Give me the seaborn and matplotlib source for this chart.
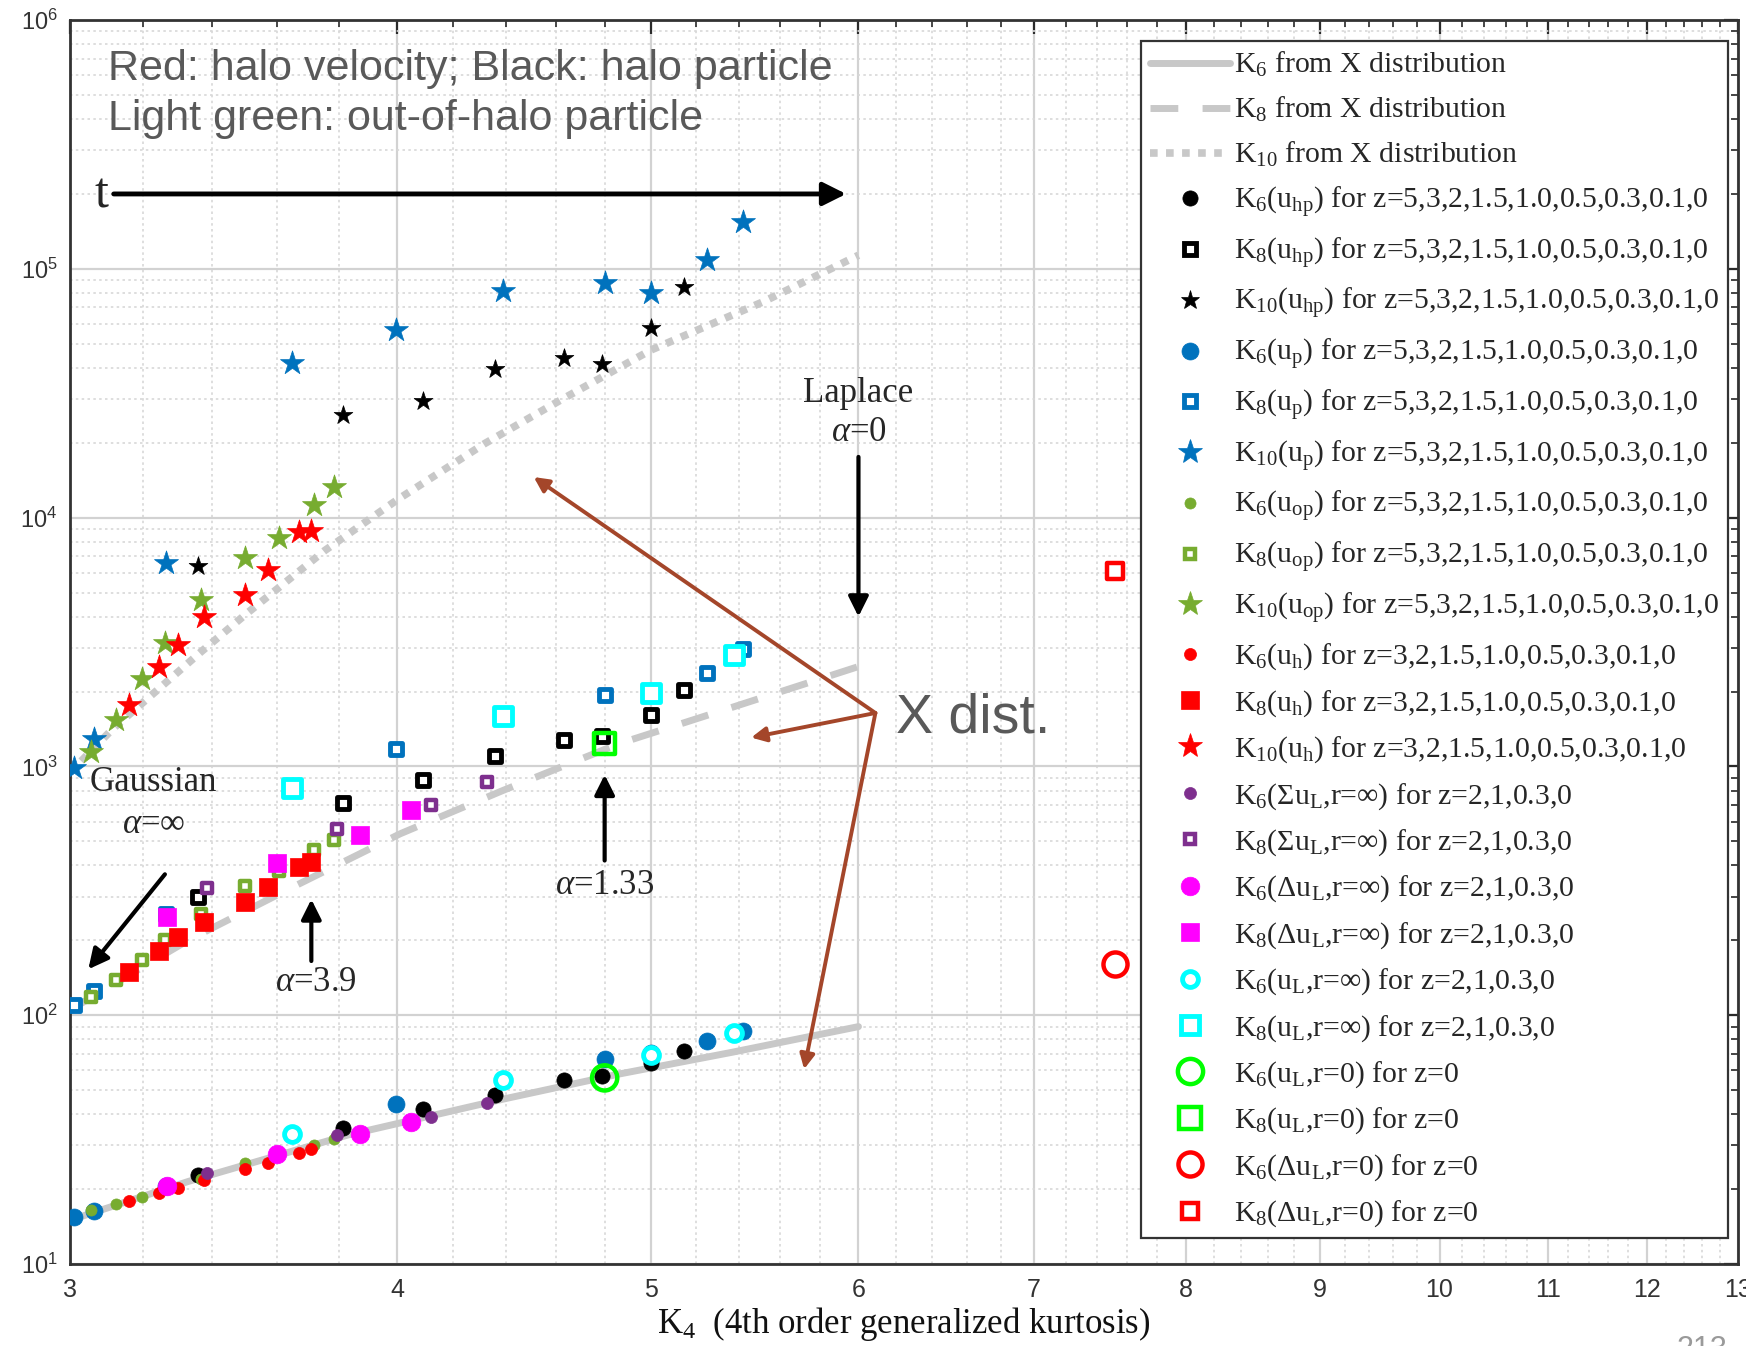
import numpy as np
import pandas as pd
import matplotlib
matplotlib.use("Agg")
import matplotlib.pyplot as plt
import seaborn as sns
from matplotlib.lines import Line2D
from matplotlib.ticker import FixedLocator, FixedFormatter, NullFormatter, LogLocator

sns.set_style("white")
plt.rcParams["font.family"] = ["Liberation Sans", "DejaVu Sans"]
plt.rcParams["mathtext.fontset"] = "custom"
plt.rcParams["mathtext.rm"] = "Liberation Serif"
plt.rcParams["mathtext.it"] = "Liberation Serif:italic"
plt.rcParams["mathtext.bf"] = "Liberation Serif:bold"

# ---------------- data ----------------
# X distribution reference curves
xX6 = [3.0, 3.33, 3.83, 4.39, 4.86, 5.37, 6.0]
K6_X = [15, 21.5, 33, 46, 58, 71, 90]
xX8 = [3.0, 3.328, 3.648, 4.01, 4.39, 4.86, 5.372, 6.0]
K8_X = [105, 200, 327, 536, 801, 1234, 1731, 2520]
xX10 = [3.0, 3.115, 3.238, 3.365, 3.503, 3.753, 4.0, 4.32, 4.618, 5.0, 5.52, 6.0]
K10_X = [945, 1417, 2020, 2879, 4106, 7374, 11800, 19860, 29700, 47200, 73850, 113400]

# halo particle (black)
K4_hp = [3.357, 3.815, 4.09, 4.36, 4.63, 4.79, 5.00, 5.145]
K6_hp = [22.9, 35.3, 42.0, 48.0, 54.8, 57.2, 64.4, 71.7]
K8_hp = [298, 712, 879, 1100, 1272, 1323, 1603, 2020]
K10_hp = [6400, 25830, 29400, 39570, 43950, 41560, 58030, 84900]

# particle (blue)
K4_p = [3.01, 3.065, 3.265, 3.645, 3.995, 4.39, 4.80, 5.00, 5.25, 5.42]
K6_p = [15.5, 16.4, 20.6, 33.2, 44.0, 55.1, 66.4, 70.6, 78.6, 86.2]
K8_p = [109.6, 125, 256, 826, 1178, 1614, 1929, 1960, 2371, 2971]
K10_p = [990, 1294, 6600, 41700, 56800, 81500, 87600, 79800, 108700, 154000]

# out-of-halo particle (light green)
K4_op = [3.057, 3.123, 3.195, 3.261, 3.367, 3.50, 3.606, 3.719, 3.783]
K6_op = [16.5, 17.5, 18.6, 20.0, 22.0, 25.5, 27.5, 30.2, 31.7]
K8_op = [118, 138, 167, 201, 256, 330, 379, 463, 504]
K10_op = [1142, 1540, 2251, 3131, 4673, 6893, 8290, 11290, 13260]

# halo velocity (red)
K4_h = [3.161, 3.245, 3.300, 3.375, 3.498, 3.570, 3.669, 3.709]
K6_h = [17.9, 19.3, 20.2, 21.7, 24.0, 25.4, 28.0, 28.9]
K8_h = [149, 182, 206, 237, 285, 327, 396, 412]
K10_h = [1758, 2506, 3064, 3981, 4910, 6188, 8738, 8875]

# Sigma u_L, r = inf (purple)
K4_S = [3.383, 3.795, 4.12, 4.33]
K6_S = [23.3, 32.9, 38.9, 44.2]
K8_S = [326, 562, 697, 865]

# Delta u_L, r = inf (magenta)
K4_D = [3.266, 3.60, 3.87, 4.05]
K6_D = [20.6, 27.8, 33.2, 37.2]
K8_D = [248, 409, 528, 666]

# u_L, r = inf (cyan)
K4_L = [3.645, 4.39, 5.0, 5.38]
K6_L = [33.2, 55.1, 69.5, 84.9]
K8_L = [821, 1593, 1971, 2793]

# u_L, r = 0 (bright green) and Delta u_L, r = 0 (red)
K4_L0 = [4.8]
K6_L0 = [56.0]
K8_L0 = [1234]
K4_D0 = [7.52]
K6_D0 = [161]
K8_D0 = [6131]

x_ticks = [3, 4, 5, 6, 7, 8, 9, 10, 11, 12, 13]
x_ticklabels = ["3", "4", "5", "6", "7", "8", "9", "10", "11", "12", "13"]

# ---------------- figure ----------------
fig = plt.figure(figsize=(17.46, 13.46), dpi=100)
ax = fig.add_axes([0.0401, 0.0609, 0.9553, 0.9242])
ax.set_xscale("log")
ax.set_yscale("log")

GRAY = "#c8c8c8"
BLUE = "#0072BD"
GREEN = "#77AC30"
PURPLE = "#7E2F8E"
RED = "#FF0000"
MAG = "#FF00FF"
CYAN = "#00FFFF"
LIME = "#00FF00"

lk = dict(ax=ax, estimator=None, errorbar=None, sort=False, legend=False)
sns.lineplot(x=xX6, y=K6_X, color=GRAY, lw=5, zorder=2, **lk)
sns.lineplot(x=xX8, y=K8_X, color=GRAY, lw=5, linestyle=(0, (4, 3.5)), zorder=2, **lk)
sns.lineplot(x=xX10, y=K10_X, color=GRAY, lw=5.5, linestyle=(0, (1, 1.1)), zorder=2, **lk)


def scat(x, y, marker, s, fc, ec, lw, z=3):
    sns.scatterplot(x=x, y=y, ax=ax, marker=marker, s=s, color=ec, facecolor=fc,
                    edgecolor=ec, linewidth=lw, legend=False, zorder=z)


# style per series: (marker, s, face, edge, lw)
st = {
    "hp6": ("o", 120, "k", "k", 0.5),
    "hp8": ("s", 64, "white", "k", 3.5),
    "hp10": ("*", 200, "k", "k", 0.5),
    "p6": ("o", 150, BLUE, BLUE, 0.5),
    "p8": ("s", 64, "white", BLUE, 3.5),
    "p10": ("*", 330, BLUE, BLUE, 0.5),
    "op6": ("o", 64, GREEN, GREEN, 0.5),
    "op8": ("s", 56, "white", GREEN, 3.2),
    "op10": ("*", 330, GREEN, GREEN, 0.5),
    "h6": ("o", 75, RED, RED, 0.5),
    "h8": ("s", 150, RED, RED, 0.5),
    "h10": ("*", 330, RED, RED, 0.5),
    "S6": ("o", 75, PURPLE, PURPLE, 0.5),
    "S8": ("s", 56, "white", PURPLE, 3.2),
    "D6": ("o", 180, MAG, MAG, 0.5),
    "D8": ("s", 170, MAG, MAG, 0.5),
    "L6": ("o", 130, "white", CYAN, 3.5),
    "L8": ("s", 150, "white", CYAN, 3.5),
    "L06": ("o", 330, "none", LIME, 3.2),
    "L08": ("s", 240, "none", LIME, 3.2),
    "D06": ("o", 300, "white", RED, 3.2),
    "D08": ("s", 140, "white", RED, 3.2),
}

series = [
    ("hp6", K4_hp, K6_hp), ("hp8", K4_hp, K8_hp), ("hp10", K4_hp, K10_hp),
    ("p6", K4_p, K6_p), ("p8", K4_p, K8_p), ("p10", K4_p, K10_p),
    ("op6", K4_op, K6_op), ("op8", K4_op, K8_op), ("op10", K4_op, K10_op),
    ("h6", K4_h, K6_h), ("h8", K4_h, K8_h), ("h10", K4_h, K10_h),
    ("S6", K4_S, K6_S), ("S8", K4_S, K8_S),
    ("D6", K4_D, K6_D), ("D8", K4_D, K8_D),
    ("L6", K4_L, K6_L), ("L8", K4_L, K8_L),
    ("L06", K4_L0, K6_L0), ("L08", K4_L0, K8_L0),
    ("D06", K4_D0, K6_D0), ("D08", K4_D0, K8_D0),
]
for i, (key, xs, ys) in enumerate(series):
    m, s, fc, ec, lw = st[key]
    scat(xs, ys, m, s, fc, ec, lw, z=3 + i * 0.01)

ax.set_xlim(3, 13)
ax.set_ylim(10, 1e6)

# ---------------- axes styling ----------------
ax.xaxis.set_major_locator(FixedLocator(x_ticks))
ax.xaxis.set_major_formatter(FixedFormatter(x_ticklabels))
minor_x = [v for v in np.round(np.arange(3.2, 13.0, 0.2), 1) if abs(v - round(v)) > 1e-6]
ax.xaxis.set_minor_locator(FixedLocator(minor_x))
ax.xaxis.set_minor_formatter(NullFormatter())
ax.yaxis.set_major_locator(LogLocator(base=10, numticks=10))
ax.yaxis.set_minor_locator(LogLocator(base=10, subs=np.arange(2, 10), numticks=20))
ax.yaxis.set_minor_formatter(NullFormatter())

ax.grid(which="major", color="#d2d2d2", lw=1.6, ls="-", zorder=0)
ax.grid(which="minor", color="#d8d8d8", lw=1.2, ls=(0, (1.5, 2.0)), zorder=0)
ax.set_axisbelow(True)

ax.tick_params(which="both", direction="in", top=True, right=True, colors="#2a2a2a")
ax.tick_params(which="major", length=10, width=1.6, labelcolor="#333333")
ax.tick_params(which="minor", length=5, width=1.2)
ax.tick_params(axis="x", which="major", pad=10, labelsize=18)
ax.tick_params(axis="y", which="major", pad=9, labelsize=17)
for sp in ax.spines.values():
    sp.set_color("#333333")
    sp.set_linewidth(2)

ax.set_xlabel(r"K$_4$  (4th order generalized kurtosis)", family="Liberation Serif",
              fontsize=25, labelpad=2, color="#111111")

# ---------------- annotations ----------------
SERIF = ["Liberation Serif", "DejaVu Serif"]
ax.text(0.0228, 0.9606, "Red: halo velocity; Black: halo particle", transform=ax.transAxes,
        fontsize=31, color="#595959", va="center", ha="left")
ax.text(0.0228, 0.9204, "Light green: out-of-halo particle", transform=ax.transAxes,
        fontsize=31, color="#595959", va="center", ha="left")
ax.text(0.4952, 0.4389, "X dist.", transform=ax.transAxes, fontsize=40,
        color="#595959", va="center", ha="left")

ax.text(3.085, 1.97e5, "t", family=SERIF, fontsize=36, ha="center", va="center")
ax.annotate("", xy=(5.95, 2.0e5), xytext=(3.11, 2.0e5),
            arrowprops=dict(arrowstyle="-|>", color="k", lw=3.5, mutation_scale=35))

ax.text(6.0, 31550, "Laplace", family=SERIF, fontsize=25, ha="center", va="center")
ax.text(6.0, 21970, r"$\alpha$=0", family=SERIF, fontsize=25, ha="center", va="center")
ax.annotate("", xy=(6.0, 3900), xytext=(6.0, 18000),
            arrowprops=dict(arrowstyle="-|>", color="k", lw=3, mutation_scale=30))

ax.text(3.229, 865, "Gaussian", family=SERIF, fontsize=25, ha="center", va="center")
ax.text(3.23, 585, r"$\alpha$=∞", family=SERIF, fontsize=25, ha="center", va="center")
ax.annotate("", xy=(3.044, 150), xytext=(3.266, 376),
            arrowprops=dict(arrowstyle="-|>", color="k", lw=3, mutation_scale=30))

ax.text(3.724, 135.5, r"$\alpha$=3.9", family=SERIF, fontsize=25, ha="center", va="center")
ax.annotate("", xy=(3.709, 300), xytext=(3.709, 161),
            arrowprops=dict(arrowstyle="-|>", color="k", lw=3, mutation_scale=30))

ax.text(4.798, 332, r"$\alpha$=1.33", family=SERIF, fontsize=25, ha="center", va="center")
ax.annotate("", xy=(4.8, 950), xytext=(4.8, 408),
            arrowprops=dict(arrowstyle="-|>", color="k", lw=3, mutation_scale=30))

BROWN = "#A4462A"
for tx, ty in [(4.51, 14560), (5.46, 1306), (5.72, 60.7)]:
    ax.annotate("", xy=(tx, ty), xytext=(6.09, 1640),
                arrowprops=dict(arrowstyle="-|>", color=BROWN, lw=2.8, mutation_scale=22,
                                shrinkA=0, shrinkB=0))

fig.text(0.9745, -0.003, "213", ha="center", va="center", color="#9a9a9a", fontsize=22)

# ---------------- legend ----------------
def mk(key):
    m, s, fc, ec, lw = st[key]
    return Line2D([], [], ls="none", marker=m, markersize=np.sqrt(s),
                  markerfacecolor=fc, markeredgecolor=ec, markeredgewidth=lw)


handles = [
    Line2D([], [], color=GRAY, lw=5),
    Line2D([], [], color=GRAY, lw=5, ls=(0, (4, 3.5))),
    Line2D([], [], color=GRAY, lw=5.5, ls=(0, (1, 1.1))),
] + [mk(k) for k in ["hp6", "hp8", "hp10", "p6", "p8", "p10", "op6", "op8", "op10",
                      "h6", "h8", "h10", "S6", "S8", "D6", "D8", "L6", "L8",
                      "L06", "L08", "D06", "D08"]]

zA = "for z=5,3,2,1.5,1.0,0.5,0.3,0.1,0"
zB = "for z=3,2,1.5,1.0,0.5,0.3,0.1,0"
zC = "for z=2,1,0.3,0"
labels = [
    r"K$_6$ from X distribution",
    r"K$_8$ from X distribution",
    r"K$_{10}$ from X distribution",
    r"K$_6$(u$_{\mathrm{hp}}$) " + zA,
    r"K$_8$(u$_{\mathrm{hp}}$) " + zA,
    r"K$_{10}$(u$_{\mathrm{hp}}$) " + zA,
    r"K$_6$(u$_{\mathrm{p}}$) " + zA,
    r"K$_8$(u$_{\mathrm{p}}$) " + zA,
    r"K$_{10}$(u$_{\mathrm{p}}$) " + zA,
    r"K$_6$(u$_{\mathrm{op}}$) " + zA,
    r"K$_8$(u$_{\mathrm{op}}$) " + zA,
    r"K$_{10}$(u$_{\mathrm{op}}$) " + zA,
    r"K$_6$(u$_{\mathrm{h}}$) " + zB,
    r"K$_8$(u$_{\mathrm{h}}$) " + zB,
    r"K$_{10}$(u$_{\mathrm{h}}$) " + zB,
    r"K$_6$(Σu$_{\mathrm{L}}$,r=∞) " + zC,
    r"K$_8$(Σu$_{\mathrm{L}}$,r=∞) " + zC,
    r"K$_6$(Δu$_{\mathrm{L}}$,r=∞) " + zC,
    r"K$_8$(Δu$_{\mathrm{L}}$,r=∞) " + zC,
    r"K$_6$(u$_{\mathrm{L}}$,r=∞) " + zC,
    r"K$_8$(u$_{\mathrm{L}}$,r=∞) " + zC,
    r"K$_6$(u$_{\mathrm{L}}$,r=0) for z=0",
    r"K$_8$(u$_{\mathrm{L}}$,r=0) for z=0",
    r"K$_6$(Δu$_{\mathrm{L}}$,r=0) for z=0",
    r"K$_8$(Δu$_{\mathrm{L}}$,r=0) for z=0",
]

leg = ax.legend(handles, labels, loc="upper left", bbox_to_anchor=(0.642, 0.983),
                prop={"family": SERIF, "size": 21.4}, frameon=True, fancybox=False,
                edgecolor="#333333", framealpha=1, handlelength=2.7, handletextpad=0.12,
                labelspacing=0.53, borderpad=0.3, borderaxespad=0)
leg.get_frame().set_linewidth(1.6)
leg.set_zorder(10)

fig.savefig("out.png", dpi=100)
